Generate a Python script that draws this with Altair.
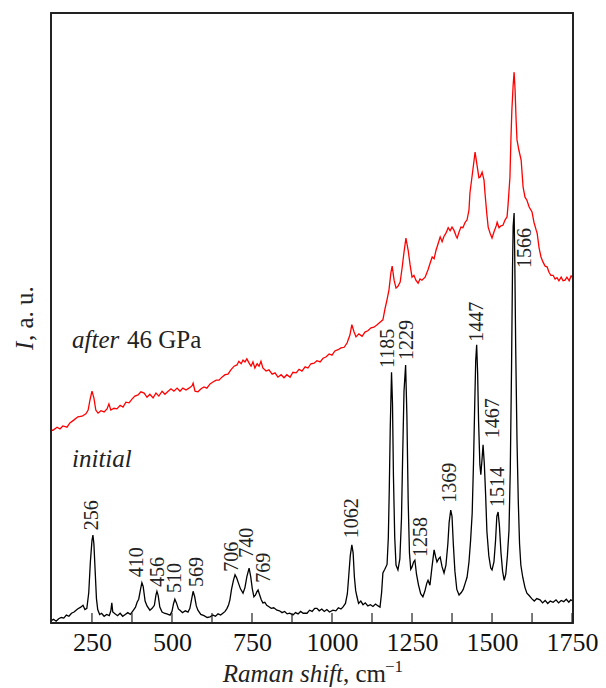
import altair as alt
import pandas as pd

# ---------------- data ----------------
initial_x = [122,130,138,146,154,162,170,178,186,194,205,215,222,228,234,240,245,250,253,256,260,264,268,274,280,288,296,304,309,312,315,322,330,338,346,354,362,370,378,386,391,396,402,406,410,416,422,431,438,445,450,453,457,462,469,476,484,494,500,505,509,514,520,525,533,542,550,556,561,566,571,576,581,590,600,610,619,628,636,644,652,659,666,672,677,681,686,692,697,702,708,714,722,728,734,741,746,751,756,761,765,769,774,779,784,790,796,802,810,818,828,836,844,852,860,868,878,886,894,902,910,922,930,938,946,953,960,968,976,984,992,1003,1012,1020,1028,1034,1042,1048,1052,1057,1062,1066,1070,1074,1078,1083,1090,1097,1104,1112,1120,1128,1136,1144,1150,1155,1159,1165,1172,1176,1179,1182,1186,1189,1192,1196,1200,1206,1212,1217,1221,1225,1230,1234,1238,1242,1246,1250,1255,1259,1264,1270,1277,1284,1290,1296,1300,1306,1312,1319,1324,1328,1333,1338,1344,1350,1356,1362,1366,1371,1375,1379,1384,1390,1397,1404,1410,1416,1422,1428,1433,1438,1442,1446,1449,1452,1455,1458,1462,1465,1469,1472,1476,1480,1484,1490,1496,1500,1506,1511,1515,1519,1523,1528,1533,1538,1543,1548,1553,1557,1561,1564,1566,1569,1571,1574,1578,1582,1586,1590,1596,1603,1609,1616,1624,1632,1640,1650,1658,1666,1674,1682,1691,1700,1708,1716,1724,1732,1740,1746,1753]
initial_y = [0.4,0.6,0.3,0.7,0.9,0.8,1.3,1.1,1.6,1.8,2.3,2.6,2.9,2.2,2.4,5.0,10.0,13.5,14.4,13.0,8.5,4.0,2.2,1.4,1.6,1.1,1.4,1.2,2.0,3.3,1.8,1.5,1.2,1.6,1.1,1.4,1.7,1.4,2.0,2.6,3.4,3.9,5.6,6.6,6.0,3.6,2.8,2.1,2.4,2.9,4.6,5.2,4.5,2.6,1.8,1.6,1.5,1.3,1.9,3.2,3.9,3.3,2.3,2.1,1.7,2.0,1.8,2.4,3.8,5.2,4.3,2.8,2.1,1.4,1.2,0.9,1.0,1.3,1.1,1.5,1.3,1.6,1.9,2.4,3.0,3.8,5.5,7.0,7.9,7.4,6.5,5.6,4.9,5.8,7.6,9.0,7.6,5.6,4.3,4.6,5.1,5.4,4.6,3.8,3.3,3.4,2.9,2.7,2.4,2.5,2.1,2.0,1.7,1.9,1.5,1.6,1.3,1.7,1.5,1.9,1.6,1.6,2.1,1.9,2.4,2.4,2.0,2.3,1.9,2.2,1.8,2.1,2.0,2.5,2.3,2.6,3.2,4.8,7.5,11.0,12.8,11.5,7.5,5.3,4.3,3.2,3.6,3.0,3.3,2.8,3.0,2.7,3.1,2.8,2.6,5.0,8.2,8.8,9.6,14.0,22.0,32.0,41.1,36.0,24.0,14.0,9.5,8.7,10.5,17.0,28.0,38.0,42.3,34.0,20.0,11.5,8.8,9.2,10.0,10.3,8.0,6.3,4.8,4.3,5.2,6.5,7.0,6.2,9.0,12.0,10.8,10.0,10.5,10.8,9.2,8.2,9.5,13.0,16.5,18.5,17.5,13.0,8.5,5.5,4.6,5.0,5.5,6.5,7.5,10.0,13.5,18.0,26.0,36.0,43.0,45.6,41.0,33.0,26.0,24.3,27.0,29.2,26.0,21.0,15.0,11.0,9.0,8.7,10.0,13.5,17.5,18.2,16.0,11.5,8.5,7.0,8.0,11.0,15.2,25.0,42.0,58.0,65.0,67.2,60.0,45.0,30.0,20.0,13.0,9.5,7.5,5.8,4.9,4.5,4.0,3.6,4.0,3.8,3.3,3.7,3.2,3.6,3.4,3.8,3.3,3.7,3.5,3.9,3.4,3.8,3.6]

after_x = [122,128,141,150,159,172,181,194,206,219,231,238,244,250,256,262,269,278,288,297,303,309,319,328,338,347,356,366,375,384,394,403,413,422,431,441,450,459,469,478,488,497,506,516,525,534,544,553,563,566,572,581,591,600,609,619,628,638,647,656,666,675,684,694,703,709,716,722,728,734,741,747,753,759,766,772,778,784,794,803,813,822,831,841,850,859,869,878,888,897,906,916,925,934,944,953,963,972,981,991,1000,1009,1019,1028,1038,1047,1056,1062,1069,1075,1084,1094,1103,1112,1122,1131,1141,1150,1159,1166,1172,1178,1184,1188,1194,1200,1206,1213,1219,1225,1231,1238,1244,1250,1256,1262,1269,1275,1281,1291,1300,1306,1313,1319,1325,1331,1338,1344,1350,1356,1363,1369,1375,1381,1388,1391,1397,1403,1409,1416,1422,1428,1431,1438,1444,1447,1453,1459,1463,1469,1475,1478,1484,1488,1494,1500,1506,1513,1516,1522,1528,1534,1541,1547,1550,1556,1559,1562,1566,1569,1572,1575,1578,1584,1591,1597,1603,1609,1616,1625,1631,1638,1641,1647,1653,1659,1666,1672,1678,1684,1691,1697,1703,1709,1716,1722,1728,1734,1741,1747,1753]
after_y = [31.6,31.6,32.1,31.8,32.3,32.1,32.8,33.3,33.8,33.9,34.3,34.9,36.6,38.0,36.9,34.9,34.4,34.8,34.6,35.1,35.9,34.9,35.2,35.1,35.7,35.4,36.2,36.1,36.7,37.2,37.4,37.9,37.7,37.0,37.5,36.9,37.7,37.2,38.0,37.5,38.0,38.4,38.0,38.5,38.0,38.5,38.2,38.5,38.9,39.3,38.0,37.9,38.4,38.7,38.5,39.2,39.5,39.8,39.8,40.3,40.7,40.8,41.5,42.1,42.3,42.9,42.5,43.1,42.8,43.3,42.6,42.1,42.8,41.8,42.5,42.1,42.9,41.8,41.3,41.5,40.8,41.0,40.3,40.7,40.2,40.7,40.3,41.1,41.0,41.6,41.3,42.0,41.8,42.5,42.6,43.0,42.8,43.4,43.6,44.1,43.9,44.6,44.8,45.1,45.2,45.9,47.2,48.9,47.7,46.9,47.4,47.0,47.7,47.9,48.4,48.5,48.9,49.3,49.7,51.6,53.0,54.6,57.4,58.5,56.2,54.9,55.2,55.9,58.2,60.8,63.1,61.1,58.7,56.7,57.0,56.2,55.7,56.4,56.2,56.7,57.9,58.9,60.0,59.7,61.1,62.1,63.3,62.5,63.4,63.9,64.8,64.3,64.9,64.4,63.4,63.1,64.1,64.9,64.8,65.7,66.1,67.7,70.5,73.4,75.9,77.2,75.1,73.0,73.1,73.9,72.6,70.5,66.9,64.9,63.9,63.1,64.1,65.1,65.7,64.8,65.1,65.2,66.1,66.6,68.5,73.1,79.2,84.1,88.2,90.3,87.4,82.8,79.2,77.5,75.9,71.5,69.8,69.3,68.2,67.4,65.7,64.4,63.9,61.5,60.0,59.2,58.5,58.4,57.5,57.0,57.0,56.4,56.6,56.1,56.7,56.1,56.2,56.7,56.1,56.9,56.6]

peak_labels = ["256","410","456","510","569","706","740","769","1062","1185","1229","1258","1369","1447","1467","1514","1566"]
peak_label_x = [250,391,456,509,578,687,734,787,1062,1175,1234,1278,1369,1453,1503,1519,1603]
peak_label_y = [15.2,7.5,5.9,4.9,5.9,8.4,10.7,6.6,13.9,41.8,43.1,10.8,19.7,46.1,30.3,19.0,58.2]

x_major = [250, 500, 750, 1000, 1250, 1500, 1750]
x_ticks = [250, 375, 500, 625, 750, 875, 1000, 1125, 1250, 1375, 1500, 1625, 1750]

# ---------------- chart ----------------
SERIF = "Liberation Serif"
FRAME = "#222222"
W, H = 522, 610
X0, X1 = 122, 1753
Y0, Y1 = 0, 100
TICK_LEN = 10 * (Y1 - Y0) / H   # 10 px inward ticks, in y units
xs = alt.Scale(domain=[X0, X1], nice=False, zero=False)
ys = alt.Scale(domain=[Y0, Y1], nice=False, zero=False)

xaxis = alt.Axis(values=x_major, title=None, grid=False, ticks=False, domain=False,
                 labelFont=SERIF, labelFontSize=26, labelColor="#111", labelPadding=6,
                 format="d", labelFlush=False)


def seg(xa, xb, ya, yb, width):
    d = pd.DataFrame({"x": [xa, xb], "y": [ya, yb]})
    return alt.Chart(d).mark_line(color=FRAME, strokeWidth=width).encode(
        x=alt.X("x:Q", scale=xs), y=alt.Y("y:Q", scale=ys, axis=None))


# plot frame (four sides along the scale limits) and inward ticks
frame_layers = [
    seg(X0, X1, Y0, Y0, 1.8),
    seg(X0, X1, Y1, Y1, 1.8),
    seg(X0, X0, Y0, Y1, 1.8),
    seg(X1, X1, Y0, Y1, 1.8),
]
tick_layers = [seg(t, t, Y0, Y0 + TICK_LEN, 1.2) for t in x_ticks]

after_line = alt.Chart(pd.DataFrame({"x": after_x, "y": after_y})).mark_line(
    color="#ff0000", strokeWidth=1.3).encode(
    x=alt.X("x:Q", scale=xs, axis=xaxis), y=alt.Y("y:Q", scale=ys, axis=None))

initial_line = alt.Chart(pd.DataFrame({"x": initial_x, "y": initial_y})).mark_line(
    color="#000000", strokeWidth=1.3).encode(
    x=alt.X("x:Q", scale=xs), y=alt.Y("y:Q", scale=ys, axis=None))

lab_df = pd.DataFrame({"t": peak_labels, "x": peak_label_x, "y": peak_label_y})
labels = alt.Chart(lab_df).mark_text(angle=270, align="left", baseline="middle", font=SERIF,
                                     fontSize=20, color="#222").encode(
    x=alt.X("x:Q", scale=xs), y=alt.Y("y:Q", scale=ys), text="t:N")

def txt(s, x, y, size=25, style="normal", angle=0, align="left", baseline="alphabetic"):
    return alt.Chart(pd.DataFrame({"t": [s]})).mark_text(
        font=SERIF, fontSize=size, fontStyle=style, angle=angle, align=align,
        baseline=baseline, color="#222").encode(x=alt.value(x), y=alt.value(y), text="t:N")

texts = [
    txt("initial", 21, 454, style="italic"),
    txt("after", 21, 335, style="italic"),
    txt("46 GPa", 76, 335),
    txt("Raman shift", 292, 669, style="italic", align="right"),
    txt(", cm", 292, 669),
    txt("\u22121", 334, 659, size=17),
    txt("I", -26, 337, style="italic", angle=270, baseline="middle"),
    txt(", a. u.", -26, 328, angle=270, baseline="middle"),
]

chart = alt.layer(after_line, initial_line, *frame_layers, *tick_layers, labels, *texts).properties(
    width=W, height=H,
    padding={"left": 51, "top": 13, "right": 33, "bottom": 65},
    autosize=alt.AutoSizeParams(type="none"),
    background="white",
).configure_view(stroke=FRAME, strokeWidth=1.8)

chart.save("out.html", embed_options={"renderer": "svg", "actions": False})
